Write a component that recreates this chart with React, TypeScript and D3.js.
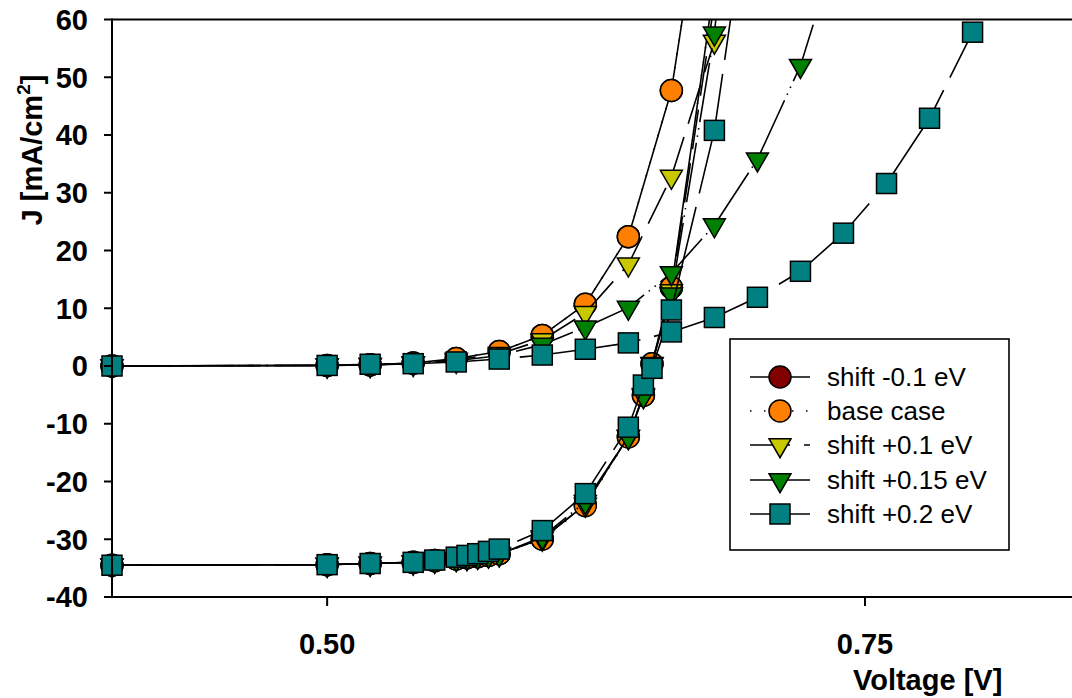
import React from 'react';
import * as d3 from 'd3';

// ---------- data ----------
const darkVoltage = [0.40, 0.50, 0.52, 0.54, 0.56, 0.58, 0.60, 0.62, 0.64, 0.66, 0.68, 0.70, 0.72, 0.74, 0.76, 0.78, 0.80];
const lightVoltage = [0.40, 0.50, 0.52, 0.54, 0.55, 0.56, 0.565, 0.57, 0.575, 0.58, 0.60, 0.62, 0.64, 0.647, 0.651, 0.66, 0.68, 0.70];

const darkShiftM01 = [0, 0.1, 0.2, 0.5, 1.3, 2.5, 5.3, 10.7, 22.4, 47.7, 96];
const darkBase = [0, 0.1, 0.2, 0.5, 1.3, 2.5, 5.3, 10.7, 22.4, 47.7, 96];
const darkShiftP01 = [0, 0.1, 0.2, 0.5, 1.1, 2.1, 4.5, 9.2, 17.6, 32.8, 56.2, 95];
const darkShiftP015 = [0, 0.1, 0.2, 0.4, 0.9, 1.8, 3.7, 6.7, 10.1, 16.1, 24.4, 35.8, 52.0, 76];
const darkShiftP02 = [0, 0.1, 0.3, 0.4, 0.7, 1.2, 1.9, 2.9, 4.0, 5.9, 8.4, 11.9, 16.4, 23.0, 31.6, 42.9, 57.8];

const lightShiftM01 = [-34.5, -34.4, -34.2, -34.0, -33.7, -33.4, -33.2, -33.0, -32.8, -32.5, -29.9, -24.0, -12.2, -5.0, 0.4, 13.6, 66, 150];
const lightBase = [-34.5, -34.4, -34.2, -34.0, -33.7, -33.4, -33.2, -33.0, -32.8, -32.5, -30.0, -24.2, -12.3, -5.1, 0.4, 13.6, 66, 150];
const lightShiftP01 = [-34.5, -34.4, -34.2, -34.0, -33.7, -33.4, -33.2, -33.0, -32.8, -32.5, -29.9, -24.0, -12.2, -5.0, 0.4, 13.0, 63, 140];
const lightShiftP015 = [-34.5, -34.4, -34.2, -34.0, -33.7, -33.4, -33.2, -33.0, -32.8, -32.6, -29.6, -23.5, -12.3, -5.2, 0.3, 12.4, 57.6, 130];
const lightShiftP02 = [-34.5, -34.4, -34.2, -34.0, -33.6, -33.1, -32.8, -32.5, -32.1, -31.7, -28.5, -22.1, -10.6, -3.3, -0.4, 9.7, 40.8, 92];

const seriesNames = ['shift -0.1 eV', 'base case', 'shift +0.1 eV', 'shift +0.15 eV', 'shift +0.2 eV'];
const yTickValues = [-40, -30, -20, -10, 0, 10, 20, 30, 40, 50, 60];
const xTickValues = [0.50, 0.75];
const xTickLabels = ['0.50', '0.75'];

// ---------- styles ----------
const seriesStyle = [
  { color: '#800000', shape: 'circle', dash: null },
  { color: '#ff8000', shape: 'circle', dash: '1.5,12.5' },
  { color: '#c8c800', shape: 'triangle', dash: '40,14' },
  { color: '#008000', shape: 'triangle', dash: '60,6,1.5,6,1.5,6' },
  { color: '#008080', shape: 'square', dash: '122,14' },
];

const series = seriesNames.map((name, i) => ({
  name,
  ...seriesStyle[i],
  dark: [darkShiftM01, darkBase, darkShiftP01, darkShiftP015, darkShiftP02][i].map((j, k) => [darkVoltage[k], j] as [number, number]),
  light: [lightShiftM01, lightBase, lightShiftP01, lightShiftP015, lightShiftP02][i].map((j, k) => [lightVoltage[k], j] as [number, number]),
}));

const FONT = "Arial, 'Liberation Sans', sans-serif";

function Marker({ shape, cx, cy, color }: { shape: string; cx: number; cy: number; color: string }) {
  const common = { fill: color, stroke: '#000', strokeWidth: 1.5 };
  if (shape === 'circle') return <circle cx={cx} cy={cy} r={11} {...common} />;
  if (shape === 'square') return <rect x={cx - 10} y={cy - 10} width={20} height={20} {...common} />;
  const pts = `${cx - 11},${cy - 6.3} ${cx + 11},${cy - 6.3} ${cx},${cy + 12.7}`;
  return <polygon points={pts} {...common} strokeLinejoin="miter" />;
}

export default function App() {
  const W = 1072;
  const H = 698;
  const x = d3.scaleLinear().domain([0.40, 0.75]).range([112, 865]);
  const y = d3.scaleLinear().domain([-40, 60]).range([597, 19.5]);
  const line = d3.line<[number, number]>().x(d => x(d[0])).y(d => y(d[1]));
  const inView = (d: [number, number]) => d[1] <= 60 && d[1] >= -40 && x(d[0]) <= W + 12;

  const legendRows = [377, 411, 445, 480, 514];

  return (
    <svg width={W} height={H} style={{ position: 'absolute', left: 0, top: 0, background: '#fff' }} fontFamily={FONT}>
      <defs>
        <clipPath id="plotClip">
          <rect x={112} y={19.5} width={W - 112} height={577.5} />
        </clipPath>
      </defs>
      <rect x={0} y={0} width={W} height={H} fill="#fff" />

      {/* series */}
      {series.map((s, i) => (
        <g key={i}>
          <g clipPath="url(#plotClip)">
            <path d={line(s.dark) || ''} fill="none" stroke="#000" strokeWidth={1.6} strokeDasharray={s.dash || undefined} />
            <path d={line(s.light) || ''} fill="none" stroke="#000" strokeWidth={1.6} strokeDasharray={s.dash || undefined} />
          </g>
          {s.dark.filter(inView).map((d, k) => (
            <Marker key={'d' + k} shape={s.shape} cx={x(d[0])} cy={y(d[1])} color={s.color} />
          ))}
          {s.light.filter(inView).map((d, k) => (
            <Marker key={'l' + k} shape={s.shape} cx={x(d[0])} cy={y(d[1])} color={s.color} />
          ))}
        </g>
      ))}

      {/* axes */}
      <g stroke="#000" strokeWidth={2}>
        <line x1={112} y1={19.5} x2={W} y2={19.5} />
        <line x1={112} y1={18.5} x2={112} y2={598} />
        <line x1={111} y1={597} x2={W} y2={597} />
        {yTickValues.map(t => (
          <line key={t} x1={104} y1={y(t)} x2={112} y2={y(t)} />
        ))}
        {xTickValues.map(t => (
          <line key={t} x1={x(t)} y1={597} x2={x(t)} y2={606} />
        ))}
      </g>
      {yTickValues.map(t => (
        <text key={t} x={88} y={y(t)} dy="0.36em" textAnchor="end" fontSize={29} fontWeight="bold" fill="#000">
          {t}
        </text>
      ))}
      {xTickValues.map((t, i) => (
        <text key={t} x={x(t)} y={654} textAnchor="middle" fontSize={29} fontWeight="bold" fill="#000">
          {xTickLabels[i]}
        </text>
      ))}
      <text x={853} y={690} fontSize={29} fontWeight="bold" fill="#000">Voltage [V]</text>
      <text transform="translate(42,150) rotate(-90)" textAnchor="middle" fontSize={29} fontWeight="bold" fill="#000">
        J [mA/cm<tspan fontSize={19} dy={-12}>2</tspan><tspan dy={12}>]</tspan>
      </text>

      {/* legend */}
      <rect x={730} y={339} width={279} height={211} fill="#fff" stroke="#000" strokeWidth={1.6} />
      {series.map((s, i) => (
        <g key={i}>
          <line x1={750} y1={legendRows[i]} x2={810} y2={legendRows[i]} stroke="#000" strokeWidth={1.6}
            strokeDasharray={i === 1 || i === 2 ? s.dash || undefined : undefined} />
          <Marker shape={s.shape} cx={780} cy={legendRows[i]} color={s.color} />
          <text x={827} y={legendRows[i] + 9} fontSize={26} fill="#000">{s.name}</text>
        </g>
      ))}
    </svg>
  );
}
